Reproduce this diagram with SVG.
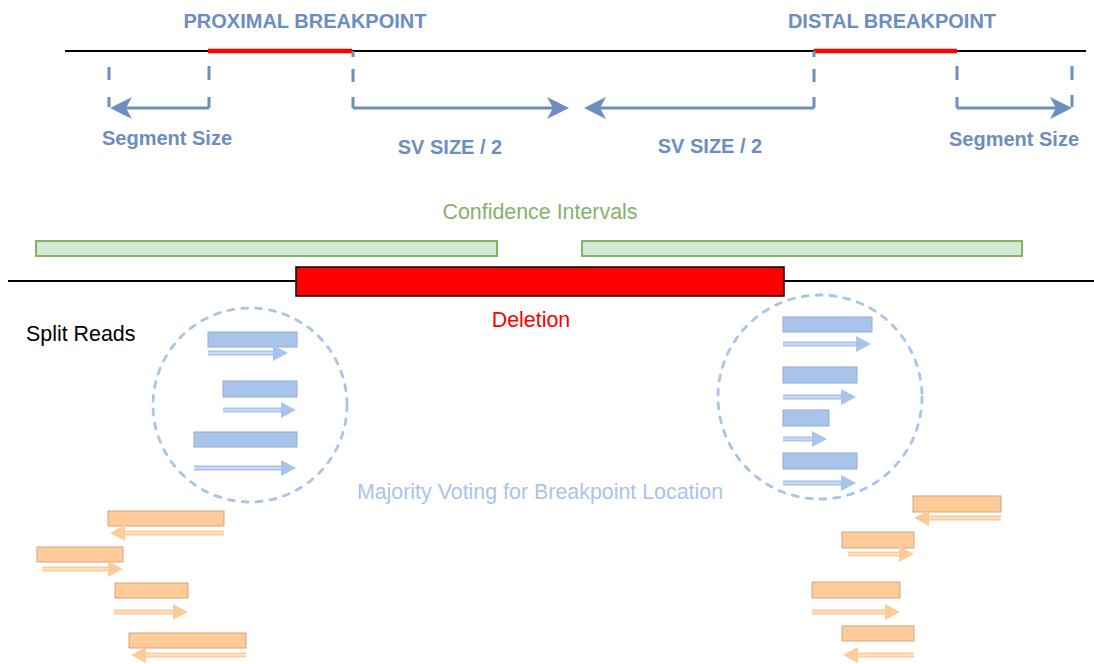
<svg xmlns="http://www.w3.org/2000/svg" width="1094" height="664" viewBox="0 0 1094 664">
  <style>
    .lbl { font-family: "Liberation Sans", Arial, sans-serif; font-weight: bold; font-size: 20px; fill: #6c8ebf; text-anchor: middle; }
    .txt { font-family: "Liberation Sans", Arial, sans-serif; font-size: 21.4px; }
    .chrom { stroke: #000; stroke-width: 2.2; fill: none; }
    .bp { stroke: #ff0000; stroke-width: 4.5; fill: none; }
    .guide { stroke: #6c8ebf; stroke-width: 3; fill: none; }
    .dim { stroke: #6c8ebf; stroke-width: 3; fill: none; }
    .ci { fill: #d5e8d4; stroke: #82b366; stroke-width: 2; }
    .ring { fill: none; stroke: #a9c4eb; stroke-width: 2.8; stroke-dasharray: 6 8; stroke-linecap: round; }
    .rb { fill: #a9c4eb; stroke: #94acd0; stroke-width: 1; }
    .ro { fill: #ffcc99; stroke: #cfa680; stroke-width: 1; }
    .ab { stroke: #a9c4eb; stroke-width: 5; fill: none; marker-end: url(#hb); }
    .ao { stroke: #ffcc99; stroke-width: 5; fill: none; marker-end: url(#ho); }
    .ain { stroke: #ffffff; stroke-opacity: 0.5; stroke-width: 1.3; fill: none; }
  </style>
  <defs>
    <marker id="hd" viewBox="0 -11 22 22" refX="6" refY="0" markerWidth="22" markerHeight="22" markerUnits="userSpaceOnUse" orient="auto" overflow="visible">
      <path d="M0,-11 L22,0 L0,11 L6,0 Z" fill="#6c8ebf"/>
    </marker>
    <marker id="hb" viewBox="0 -8 15 16" refX="0" refY="0" markerWidth="15" markerHeight="16" markerUnits="userSpaceOnUse" orient="auto" overflow="visible">
      <path d="M0,-8 L15,0 L0,8 Z" fill="#a9c4eb"/>
    </marker>
    <marker id="ho" viewBox="0 -8 15 16" refX="0" refY="0" markerWidth="15" markerHeight="16" markerUnits="userSpaceOnUse" orient="auto" overflow="visible">
      <path d="M0,-8 L15,0 L0,8 Z" fill="#ffcc99"/>
    </marker>
  </defs>

  <rect width="1094" height="664" fill="#ffffff"/>

  <!-- reference chromosome with breakpoint windows -->
  <g id="chromosome-top">
    <line class="chrom" x1="65" y1="51" x2="1086" y2="51"/>
    <line class="bp" x1="208" y1="51" x2="352" y2="51"/>
    <line class="bp" x1="814" y1="51" x2="957" y2="51"/>
  </g>
  <g id="label-proximal"><text class="lbl" x="305" y="28">PROXIMAL BREAKPOINT</text></g>
  <g id="label-distal"><text class="lbl" x="892" y="28">DISTAL BREAKPOINT</text></g>

  <!-- dimension guides and arrows -->
  <g id="connectors">
    <path class="guide" d="M109,67 V80 M109,97 V107 M209,66 V80 M209,97 V108 M353,51 V57 M353,69 V82 M353,97 V108 M814,51 V57 M814,69 V82 M814,97 V108 M957,66 V80 M957,97 V108 M1072,66 V80 M1072,95 V107"/>
    <path class="dim" d="M209,108 H126" marker-end="url(#hd)"/>
    <path class="dim" d="M353,108 H553" marker-end="url(#hd)"/>
    <path class="dim" d="M814,108 H600" marker-end="url(#hd)"/>
    <path class="dim" d="M957,108 H1056" marker-end="url(#hd)"/>
  </g>
  <g id="label-seg-left"><text class="lbl" x="167" y="145">Segment Size</text></g>
  <g id="label-sv-left"><text class="lbl" x="450" y="154">SV SIZE / 2</text></g>
  <g id="label-sv-right"><text class="lbl" x="710" y="153">SV SIZE / 2</text></g>
  <g id="label-seg-right"><text class="lbl" x="1014" y="146">Segment Size</text></g>

  <!-- confidence intervals -->
  <g id="confidence">
    <text class="txt" x="540" y="219" fill="#82b366" text-anchor="middle">Confidence Intervals</text>
    <rect class="ci" x="36" y="241" width="461" height="15"/>
    <rect class="ci" x="582" y="241" width="440" height="15"/>
  </g>

  <!-- sample genome with deletion -->
  <g id="deletion">
    <line class="chrom" x1="8" y1="281" x2="1094" y2="281"/>
    <rect x="296" y="267" width="488" height="29" fill="#ff0000" stroke="#000" stroke-width="1.5"/>
    <text class="txt" x="531" y="327" fill="#ff0000" text-anchor="middle">Deletion</text>
  </g>

  <g id="label-split"><text class="txt" x="26" y="341" fill="#000">Split Reads</text></g>

  <!-- split reads clustered at each breakpoint -->
  <g id="cluster-left">
    <circle class="ring" cx="250" cy="405" r="97"/>
    <rect class="rb" x="208" y="332" width="89" height="15"/>
    <rect class="rb" x="223" y="381" width="74" height="16"/>
    <rect class="rb" x="194" y="432" width="103" height="15"/>
    <path class="ab" d="M208,353 H273"/><path class="ain" d="M208,353 H273"/>
    <path class="ab" d="M223,410 H281"/><path class="ain" d="M223,410 H281"/>
    <path class="ab" d="M194,468 H281"/><path class="ain" d="M194,468 H281"/>
  </g>
  <g id="cluster-right">
    <circle class="ring" cx="820" cy="397" r="102"/>
    <rect class="rb" x="783" y="317" width="89" height="15"/>
    <rect class="rb" x="783" y="367" width="74" height="16"/>
    <rect class="rb" x="783" y="410" width="46" height="16"/>
    <rect class="rb" x="783" y="453" width="74" height="16"/>
    <path class="ab" d="M783,344 H856"/><path class="ain" d="M783,344 H856"/>
    <path class="ab" d="M783,397 H841"/><path class="ain" d="M783,397 H841"/>
    <path class="ab" d="M783,439 H812"/><path class="ain" d="M783,439 H812"/>
    <path class="ab" d="M783,483 H841"/><path class="ain" d="M783,483 H841"/>
  </g>

  <g id="label-voting"><text class="txt" x="540" y="499" fill="#a9c4eb" text-anchor="middle">Majority Voting for Breakpoint Location</text></g>

  <!-- discordant reads -->
  <g id="reads-left">
    <rect class="ro" x="108" y="511" width="116" height="15"/>
    <rect class="ro" x="37" y="547" width="86" height="15"/>
    <rect class="ro" x="115" y="583" width="73" height="15"/>
    <rect class="ro" x="129" y="633" width="117" height="15"/>
    <path class="ao" d="M224,533 H125"/><path class="ain" d="M224,533 H125"/>
    <path class="ao" d="M42,569 H108"/><path class="ain" d="M42,569 H108"/>
    <path class="ao" d="M114,612 H173"/><path class="ain" d="M114,612 H173"/>
    <path class="ao" d="M246,655 H146"/><path class="ain" d="M246,655 H146"/>
  </g>
  <g id="reads-right">
    <rect class="ro" x="913" y="496" width="88" height="16"/>
    <rect class="ro" x="842" y="532" width="72" height="16"/>
    <rect class="ro" x="812" y="582" width="88" height="16"/>
    <rect class="ro" x="842" y="626" width="72" height="15"/>
    <path class="ao" d="M1001,518 H929"/><path class="ain" d="M1001,518 H929"/>
    <path class="ao" d="M848,554 H899"/><path class="ain" d="M848,554 H899"/>
    <path class="ao" d="M812,612 H885"/><path class="ain" d="M812,612 H885"/>
    <path class="ao" d="M914,655 H858"/><path class="ain" d="M914,655 H858"/>
  </g>
</svg>
